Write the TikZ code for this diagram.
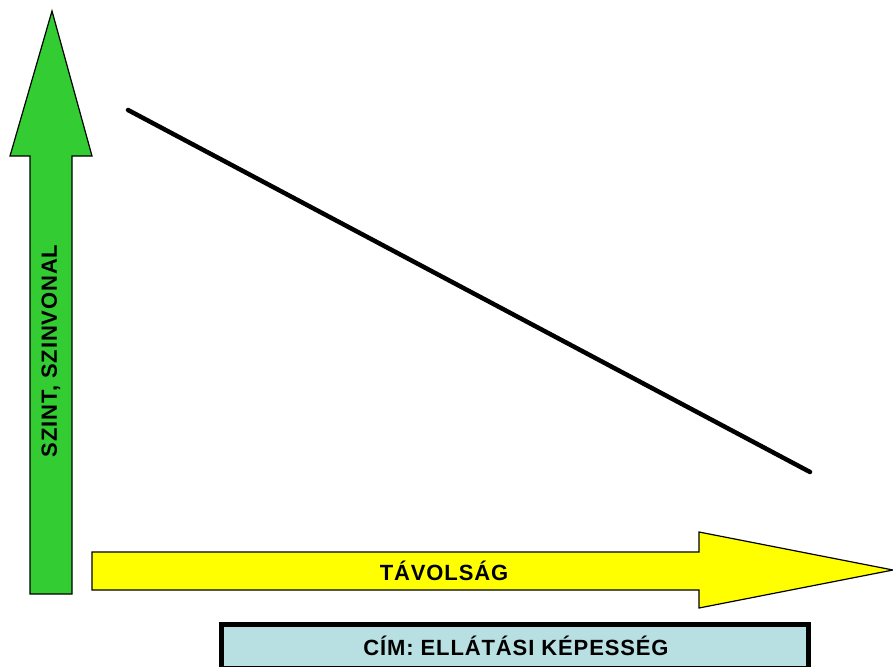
\documentclass[tikz,border=0pt]{standalone}
\usepackage{fontspec}
\setmainfont[LetterSpace=4, BoldFont={Liberation Sans Bold}]{Liberation Sans}
\usetikzlibrary{positioning}
\definecolor{levelgreen}{HTML}{33CC33}
\definecolor{distyellow}{RGB}{255,255,0}
\definecolor{titleblue}{HTML}{B8DFE1}
\tikzstyle{bigarrow} = [draw=black, line width=1.2pt, line join=miter]
\tikzstyle{axistext} = [inner sep=0pt, font=\bfseries\fontsize{22}{26}\selectfont]
\tikzstyle{titlebox} = [draw=black, line width=5pt, fill=titleblue]
\tikzstyle{trend} = [draw=black, line width=4.5pt, line cap=round]

\begin{document}
\begin{tikzpicture}[x=1pt, y=-1pt]
        \useasboundingbox (0,0) rectangle (893,666);
        \clip (0,0) rectangle (893,666);

        % level axis (green arrow)
        \draw[bigarrow, fill=levelgreen] (30,594) -- (30,156) -- (10,156) -- (52,11)
            -- (92,156) -- (72,156) -- (72,594) -- cycle;
        \node[axistext, rotate=90] (szint) at (51,351) {SZINT, SZINVONAL};

        % distance axis (yellow arrow)
        \draw[bigarrow, fill=distyellow] (92,552) -- (699,552) -- (699,532) -- (893,570)
            -- (699,608) -- (699,590) -- (92,590) -- cycle;
        \node[axistext] (tavolsag) at (444,571) {TÁVOLSÁG};

        % decreasing line
        \coordinate (hi) at (128,110);
        \coordinate (lo) at (810,472);
        \draw[trend] (hi) -- (lo);

        % title
        \draw[titlebox] (221.5,624.5) rectangle (808.5,668);
        \node[axistext] (cim) at (516,646) {CÍM: ELLÁTÁSI KÉPESSÉG};
\end{tikzpicture}
\end{document}
